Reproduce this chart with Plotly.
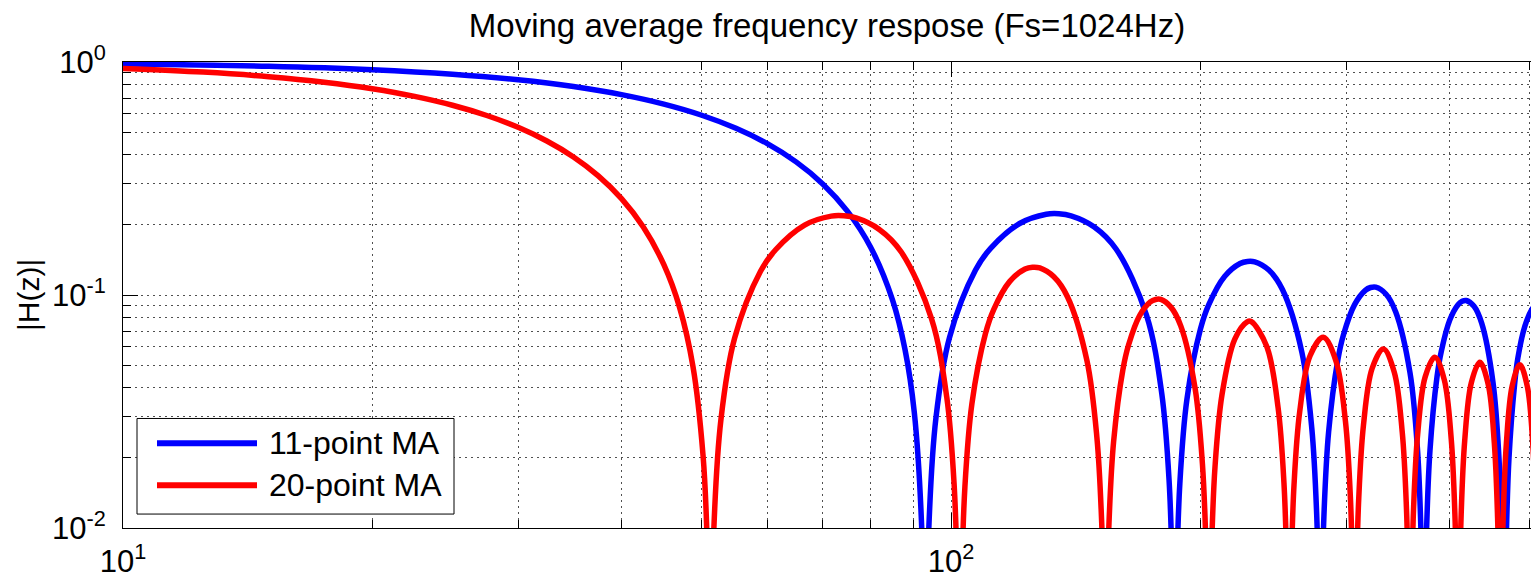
import plotly.graph_objects as go

# Magnitude response |H(z)| of two moving-average filters, Fs = 1024 Hz.
# Notch minima fall far below the 1e-2 floor of the axis.

FS = 1024
TITLE = "Moving average frequency respose (Fs=1024Hz)"
Y_LABEL = "|H(z)|"
SERIES_NAMES = ["11-point MA", "20-point MA"]
SERIES_COLORS = ["#0000FF", "#FF0000"]

X_TICK_VALUES = [10, 100]
X_TICK_TEXT = ["10<sup>1</sup>", "10<sup>2</sup>"]
Y_TICK_VALUES = [0.01, 0.1, 1]
Y_TICK_TEXT = ["10<sup>-2</sup>", "10<sup>-1</sup>", "10<sup>0</sup>"]
X_MINOR = [20, 30, 40, 50, 60, 70, 80, 90, 200, 300, 400, 500]
Y_MINOR = [0.02, 0.03, 0.04, 0.05, 0.06, 0.07, 0.08, 0.09,
           0.2, 0.3, 0.4, 0.5, 0.6, 0.7, 0.8, 0.9]

# 11-point moving average
freq_11 = [
    10, 15, 20, 25, 30, 35, 40, 45, 50, 55, 60, 65, 70, 75, 80, 85, 88, 90.3, 92.16, 93.09,
    94.02, 95.88, 99.61, 107.06, 111.71, 121.02, 130.33, 134.98, 139.64, 148.95, 158.25,
    172.22, 179.67, 183.39, 185.25, 186.18,
    187.11, 188.98, 192.70, 200.15, 204.80, 214.11, 223.42, 228.07, 232.73, 242.04, 251.35,
    265.31, 272.76, 276.48, 278.34, 279.27,
    280.20, 282.07, 285.79, 293.24, 297.86, 307.20, 316.47, 321.13, 325.82, 335.13, 344.44,
    358.40, 365.85, 369.57, 371.43, 372.36,
    373.30, 375.16, 378.88, 386.33, 390.98, 400.29, 409.60, 414.26, 418.91, 428.22, 437.53,
    451.49, 458.94, 462.66, 464.52, 465.45,
    466.39, 468.25, 471.97, 479.42, 483.73, 493.38, 502.69, 507.35, 512.0,
]
mag_11 = [
    0.9813, 0.9582, 0.9264, 0.8864, 0.8389, 0.7847, 0.7246, 0.6597, 0.5909, 0.5194, 0.4463,
    0.3727, 0.2998, 0.2285, 0.1600, 0.0951, 0.0583, 0.0313, 0.0102, 0.001,
    0.0100, 0.0295, 0.0659, 0.1280, 0.1590, 0.2027, 0.2221, 0.2232, 0.2188, 0.1960, 0.1576,
    0.0819, 0.0379, 0.0160, 0.0053, 0.001,
    0.0053, 0.0156, 0.0356, 0.0716, 0.0909, 0.1204, 0.1366, 0.1394, 0.1388, 0.1279, 0.1055,
    0.0568, 0.0267, 0.0114, 0.0038, 0.001,
    0.0038, 0.0112, 0.0258, 0.0527, 0.0675, 0.0909, 0.1047, 0.1077, 0.1081, 0.1010, 0.0845,
    0.0463, 0.0220, 0.0094, 0.0031, 0.001,
    0.0031, 0.0094, 0.0216, 0.0445, 0.0573, 0.0781, 0.0909, 0.0940, 0.0947, 0.0894, 0.0755,
    0.0420, 0.0201, 0.0087, 0.0029, 0.001,
    0.0029, 0.0086, 0.0200, 0.0415, 0.0536, 0.0737, 0.0865, 0.0898, 0.0909,
]

# 20-point moving average
freq_20 = [
    10, 12.5, 15, 17.5, 20, 22.5, 25, 27.5, 30, 32.5, 35, 37.5, 40, 42.5, 45, 47, 48.8,
    50.18, 50.69, 51.2,
    51.71, 52.74, 54.78, 58.88, 61.44, 66.56, 71.68, 74.24, 76.80, 81.92, 87.04, 94.72,
    98.82, 100.86, 101.89, 102.40,
    102.91, 103.94, 105.98, 110.08, 112.64, 117.76, 122.88, 125.44, 128.00, 133.12, 138.24,
    145.92, 150.02, 152.06, 153.09, 153.60,
    154.11, 155.14, 157.18, 161.28, 163.84, 168.96, 174.08, 176.64, 179.20, 184.32, 189.44,
    197.12, 201.22, 203.26, 204.29, 204.80,
    205.31, 206.34, 208.38, 212.48, 220.16, 227.84, 230.40, 240.64, 248.32, 252.42, 254.46,
    255.49, 256.00,
    256.51, 257.54, 259.58, 263.68, 271.36, 281.60, 291.84, 299.52, 303.62, 305.66, 306.69,
    307.20,
    307.71, 308.74, 310.78, 314.88, 322.56, 332.80, 343.04, 350.72, 354.82, 356.86, 357.89,
    358.40,
    358.91, 359.94, 361.98, 366.08, 373.76, 384.00, 394.24, 401.92, 406.02, 408.06, 409.09,
    409.60,
    410.11, 411.14, 413.18, 417.28, 424.96, 435.20, 445.44, 453.12, 457.22, 459.26, 460.29,
    460.80,
    461.31, 462.34, 464.38, 468.48, 476.16, 486.40, 496.64, 504.32, 508.42, 510.46, 511.49,
    512.0,
]
mag_20 = [
    0.9386, 0.9050, 0.8650, 0.8190, 0.7677, 0.7118, 0.6521, 0.5893, 0.5243, 0.4579, 0.3911,
    0.3245, 0.2591, 0.1957, 0.1349, 0.0887, 0.0492, 0.0205, 0.0101, 0.001,
    0.0099, 0.0292, 0.0652, 0.1264, 0.1568, 0.1995, 0.2180, 0.2187, 0.2142, 0.1912, 0.1533,
    0.0792, 0.0365, 0.0155, 0.0051, 0.001,
    0.0051, 0.0150, 0.0341, 0.0685, 0.0868, 0.1144, 0.1292, 0.1316, 0.1307, 0.1197, 0.0983,
    0.0524, 0.0246, 0.0105, 0.0035, 0.001,
    0.0034, 0.0103, 0.0235, 0.0478, 0.0610, 0.0816, 0.0934, 0.0957, 0.0957, 0.0887, 0.0737,
    0.0399, 0.0188, 0.0081, 0.0027, 0.001,
    0.0027, 0.0079, 0.0183, 0.0374, 0.0647, 0.0767, 0.0770, 0.0601, 0.0329, 0.0156, 0.0067,
    0.0022, 0.001,
    0.0022, 0.0066, 0.0153, 0.0314, 0.0547, 0.0658, 0.0518, 0.0286, 0.0136, 0.0058, 0.0019,
    0.001,
    0.0019, 0.0058, 0.0134, 0.0276, 0.0484, 0.0586, 0.0466, 0.0258, 0.0123, 0.0053, 0.0018,
    0.001,
    0.0018, 0.0053, 0.0122, 0.0252, 0.0444, 0.0541, 0.0432, 0.0241, 0.0115, 0.0050, 0.0017,
    0.001,
    0.0017, 0.0049, 0.0114, 0.0237, 0.0419, 0.0514, 0.0413, 0.0231, 0.0111, 0.0048, 0.0016,
    0.001,
    0.0016, 0.0048, 0.0110, 0.0229, 0.0407, 0.0502, 0.0405, 0.0227, 0.0109, 0.0047, 0.0016,
    0.001,
]

assert len(freq_11) == len(mag_11) and len(freq_20) == len(mag_20)

# Figure geometry (pixels)
W, H = 1531, 579
ML, MR, MT, MB = 123, 0, 62, 49
PW, PH = W - ML - MR, H - MT - MB


def px_x(x):
    return (x - ML) / PW


def px_y(y):
    return (H - MB - y) / PH


FONT = "Liberation Sans, Arial, Helvetica, sans-serif"
GRID = dict(showgrid=True, gridcolor="#505050", gridwidth=1, griddash="2px,4px")

fig = go.Figure()
for f, m, name, color in [(freq_11, mag_11, SERIES_NAMES[0], SERIES_COLORS[0]),
                          (freq_20, mag_20, SERIES_NAMES[1], SERIES_COLORS[1])]:
    fig.add_trace(go.Scatter(x=f, y=m, mode="lines", name=name,
                             line=dict(color=color, width=5.5, shape="spline", smoothing=1),
                             showlegend=False))

fig.update_layout(
    width=W, height=H,
    margin=dict(l=ML, r=MR, t=MT, b=MB),
    paper_bgcolor="white", plot_bgcolor="white",
    font=dict(family=FONT, size=31, color="black"),
    title=dict(text=TITLE, font=dict(size=33, color="black"),
               xref="paper", x=0.5, xanchor="center",
               yref="container", y=1 - 25 / H, yanchor="middle"),
    showlegend=False,
)

fig.update_xaxes(
    type="log", range=[1, 1 + PW / 828], tickvals=X_TICK_VALUES, ticktext=X_TICK_TEXT,
    ticks="inside", ticklen=15, tickwidth=1, tickcolor="black",
    showline=True, linecolor="black", linewidth=1, mirror="ticks",
    ticklabelstandoff=6,
    minor=dict(tickvals=X_MINOR, ticks="inside", ticklen=8, tickwidth=1,
               tickcolor="black", **GRID),
    **GRID,
)
fig.update_yaxes(
    type="log", range=[-2, 0], tickvals=Y_TICK_VALUES, ticktext=Y_TICK_TEXT,
    ticks="inside", ticklen=15, tickwidth=1, tickcolor="black",
    showline=True, linecolor="black", linewidth=1, mirror=False,
    ticklabelstandoff=10,
    minor=dict(tickvals=Y_MINOR, ticks="inside", ticklen=8, tickwidth=1,
               tickcolor="black", **GRID),
    **GRID,
)

# y-axis label
fig.add_annotation(text=Y_LABEL, xref="paper", yref="paper", x=px_x(28), y=0.5,
                   textangle=-90, showarrow=False, xanchor="center", yanchor="middle",
                   font=dict(size=30, color="black"))

# legend box with long line samples
fig.add_shape(type="rect", xref="paper", yref="paper",
              x0=px_x(137), x1=px_x(454), y0=px_y(516), y1=px_y(420),
              line=dict(color="black", width=1), fillcolor="white", layer="above")
for name, color, yc in [(SERIES_NAMES[0], SERIES_COLORS[0], 445),
                        (SERIES_NAMES[1], SERIES_COLORS[1], 487)]:
    fig.add_shape(type="line", xref="paper", yref="paper",
                  x0=px_x(157), x1=px_x(257), y0=px_y(yc), y1=px_y(yc),
                  line=dict(color=color, width=6), layer="above")
    fig.add_annotation(text=name, xref="paper", yref="paper", x=px_x(267), y=px_y(yc),
                       showarrow=False, xanchor="left", yanchor="middle",
                       font=dict(size=32, color="black"))

fig.write_html("out.html")
